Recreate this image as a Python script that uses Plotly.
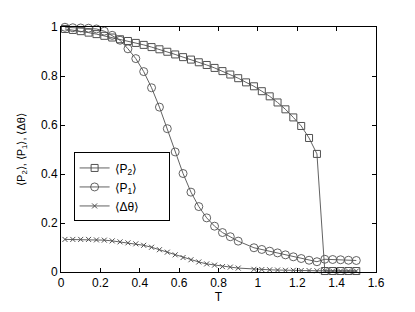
import plotly.graph_objects as go

# T grid (P2 has every point; P1 and dtheta skip T=0.94)
T_p2 = [0.02, 0.06, 0.10, 0.14, 0.18, 0.22, 0.26, 0.30, 0.34, 0.38, 0.42, 0.46,
        0.50, 0.54, 0.58, 0.62, 0.66, 0.70, 0.74, 0.78, 0.82, 0.86, 0.90, 0.94,
        0.98, 1.02, 1.06, 1.10, 1.14, 1.18, 1.22, 1.26, 1.30, 1.34, 1.38, 1.42,
        1.46, 1.50]
P2 = [0.992, 0.988, 0.983, 0.977, 0.971, 0.964, 0.957, 0.950, 0.943, 0.935, 0.927,
      0.918, 0.909, 0.899, 0.888, 0.877, 0.867, 0.856, 0.845, 0.833, 0.820, 0.806,
      0.791, 0.774, 0.758, 0.738, 0.717, 0.692, 0.664, 0.631, 0.596, 0.547, 0.482,
      0.004, 0.004, 0.004, 0.004, 0.004]

T_p1 = [0.02, 0.06, 0.10, 0.14, 0.18, 0.22, 0.26, 0.30, 0.34, 0.38, 0.42, 0.46,
        0.50, 0.54, 0.58, 0.62, 0.66, 0.70, 0.74, 0.78, 0.82, 0.86, 0.90,
        0.98, 1.02, 1.06, 1.10, 1.14, 1.18, 1.22, 1.26, 1.30, 1.34, 1.38, 1.42,
        1.46, 1.50]
P1 = [0.999, 0.997, 0.996, 0.995, 0.992, 0.983, 0.966, 0.946, 0.911, 0.871, 0.818,
      0.752, 0.673, 0.585, 0.490, 0.402, 0.326, 0.267, 0.221, 0.187, 0.161, 0.144,
      0.126, 0.099, 0.092, 0.085, 0.078, 0.070, 0.062, 0.055, 0.048, 0.042, 0.052,
      0.051, 0.050, 0.048, 0.047]

DTH = [0.133, 0.133, 0.133, 0.133, 0.131, 0.130, 0.127, 0.123, 0.119, 0.115, 0.109,
       0.101, 0.091, 0.081, 0.070, 0.059, 0.050, 0.041, 0.033, 0.028, 0.022, 0.020,
       0.016, 0.011, 0.010, 0.009, 0.008, 0.007, 0.007, 0.006, 0.006, 0.005, 0.005,
       0.004, 0.004, 0.004, 0.004]

x_ticks = [0, 0.2, 0.4, 0.6, 0.8, 1, 1.2, 1.4, 1.6]
x_labels = ["0", "0.2", "0.4", "0.6", "0.8", "1", "1.2", "1.4", "1.6"]
y_ticks = [0, 0.2, 0.4, 0.6, 0.8, 1]
y_labels = ["0", "0.2", "0.4", "0.6", "0.8", "1"]
names = ["⟨P<sub>2</sub>⟩", "⟨P<sub>1</sub>⟩", "⟨Δθ⟩"]

LINE = "#505050"
FONT = "Liberation Sans, Arial, sans-serif"
PAD = "\u00a0" * 7

fig = go.Figure()
fig.add_trace(go.Scatter(
    x=T_p2, y=P2, mode="lines+markers", name=names[0] + PAD,
    line=dict(color=LINE, width=0.9),
    marker=dict(symbol="square-open", size=7, color=LINE, line=dict(width=1, color=LINE)),
    cliponaxis=False))
fig.add_trace(go.Scatter(
    x=T_p1, y=P1, mode="lines+markers", name=names[1] + PAD,
    line=dict(color=LINE, width=0.9),
    marker=dict(symbol="circle-open", size=8, color=LINE, line=dict(width=0.9, color=LINE)),
    cliponaxis=False))
fig.add_trace(go.Scatter(
    x=T_p1, y=DTH, mode="lines+markers", name=names[2] + PAD,
    line=dict(color=LINE, width=0.9),
    marker=dict(symbol="x-thin-open", size=5, color=LINE, line=dict(width=1, color=LINE)),
    cliponaxis=False))

axis_common = dict(
    showline=True, linecolor="black", linewidth=1, mirror="ticks",
    ticks="inside", ticklen=4, tickcolor="black", showgrid=False, zeroline=False,
    tickfont=dict(family=FONT, size=12, color="black"),
)
fig.update_xaxes(range=[0, 1.6], tickvals=x_ticks, ticktext=x_labels,
                 title=dict(text="T", font=dict(family=FONT, size=12, color="black"), standoff=1),
                 **axis_common)
fig.update_yaxes(range=[0, 1], tickvals=y_ticks, ticktext=y_labels,
                 title=dict(text="⟨P<sub>2</sub>⟩, ⟨P<sub>1</sub>⟩, ⟨Δθ⟩",
                            font=dict(family=FONT, size=11, color="black"), standoff=13),
                 **axis_common)

# page body has an 8px margin: figure is 407x304 placed at (8,8) in the 415x312 window
fig.update_layout(
    width=407, height=304,
    margin=dict(l=46, r=39, t=15, b=35),
    paper_bgcolor="white", plot_bgcolor="white",
    font=dict(family=FONT, size=12, color="black"),
    legend=dict(x=0.04, y=0.488, xanchor="left", yanchor="top",
                bordercolor="black", borderwidth=1, bgcolor="white",
                font=dict(family=FONT, size=12, color="black"),
                tracegroupgap=0),
)

fig.write_html("out.html")
